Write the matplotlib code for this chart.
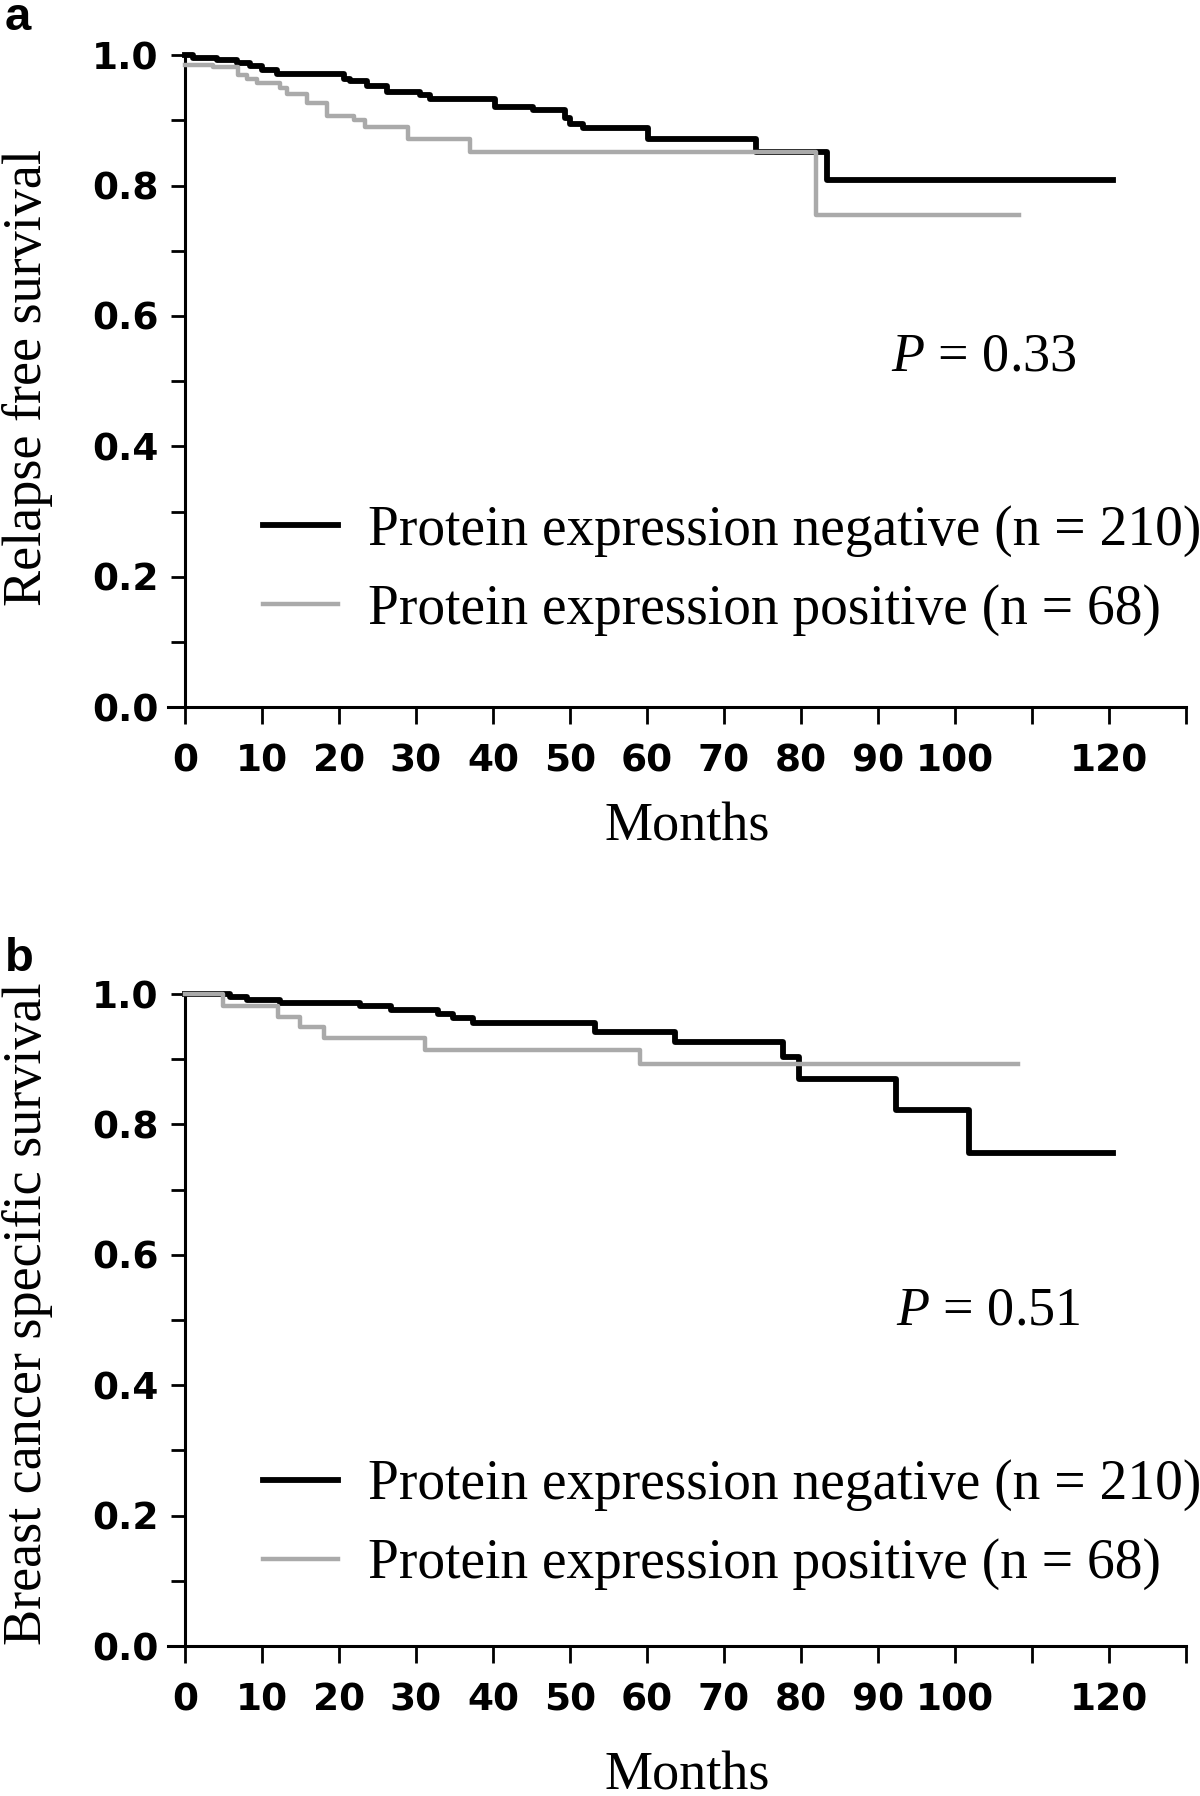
import numpy as np
import matplotlib
matplotlib.use('Agg')
import matplotlib.pyplot as plt
from matplotlib.ticker import MultipleLocator

# x axis
month_ticks = np.arange(0, 131, 10)
month_labels = ['0', '10', '20', '30', '40', '50', '60', '70', '80', '90', '100', '', '120', '']
surv_ticks = [0.0, 0.2, 0.4, 0.6, 0.8, 1.0]
surv_labels = ['0.0', '0.2', '0.4', '0.6', '0.8', '1.0']

# panel a - relapse free survival (step curves)
a_neg_t = [0, 1, 4.1, 6.7, 8.4, 10.0, 11.9, 20.6, 21.4, 23.6, 26.2, 30.5, 31.8, 40.3,
           45.2, 49.4, 50.0, 51.7, 60.2, 74.2, 83.4, 120.5]
a_neg_s = [1.0, 0.996, 0.992, 0.988, 0.984, 0.977, 0.971, 0.964, 0.960, 0.953, 0.944, 0.939,
           0.933, 0.921, 0.916, 0.903, 0.894, 0.889, 0.872, 0.852, 0.809, 0.809]
a_pos_t = [0, 3.7, 6.9, 8.1, 9.4, 12.4, 13.3, 15.9, 18.5, 21.9, 23.4, 29.0, 37.0, 81.9, 108.3]
a_pos_s = [0.985, 0.982, 0.969, 0.964, 0.957, 0.949, 0.940, 0.926, 0.907, 0.900, 0.890,
           0.872, 0.852, 0.755, 0.755]

# panel b - breast cancer specific survival
b_neg_t = [0, 5.8, 8.0, 12.3, 22.7, 26.8, 32.9, 34.8, 37.4, 53.2, 63.7, 77.7, 79.7,
           92.4, 101.8, 120.5]
b_neg_s = [1.0, 0.996, 0.991, 0.987, 0.981, 0.975, 0.969, 0.963, 0.955, 0.942, 0.927,
           0.904, 0.869, 0.822, 0.756, 0.756]
b_pos_t = [0, 5.0, 12.1, 15.0, 18.0, 31.2, 59.1, 108.2]
b_pos_s = [1.0, 0.982, 0.965, 0.950, 0.933, 0.915, 0.893, 0.893]

neg_label = 'Protein expression negative (n = 210)'
pos_label = 'Protein expression positive (n = 68)'

serif = 'Liberation Serif'
plt.rcParams['mathtext.fontset'] = 'custom'
plt.rcParams['mathtext.it'] = 'Liberation Serif:italic'
plt.rcParams['mathtext.rm'] = 'Liberation Serif'


def panel(ax, neg_t, neg_s, pos_t, pos_s, ylabel, ptext, p_xy, leg_y):
    ax.plot(neg_t, neg_s, drawstyle='steps-post', color='black', linewidth=4.2,
            clip_on=False, label=neg_label, zorder=3)
    ax.plot(pos_t, pos_s, drawstyle='steps-post', color='#aaaaaa', linewidth=3.2,
            clip_on=False, label=pos_label, zorder=4)

    ax.set_xlim(-2.2, 130)
    ax.set_ylim(0, 1.0)
    for s in ['top', 'right']:
        ax.spines[s].set_visible(False)
    ax.spines['left'].set_position(('data', 0))
    ax.spines['left'].set_linewidth(2.2)
    ax.spines['bottom'].set_linewidth(2.2)

    ax.set_xticks(month_ticks)
    ax.set_xticklabels(month_labels)
    ax.set_yticks(surv_ticks)
    ax.set_yticklabels(surv_labels)
    ax.yaxis.set_minor_locator(MultipleLocator(0.1))
    ax.tick_params(axis='x', which='both', length=12, width=2, pad=14, labelsize=27)
    ax.tick_params(axis='y', which='both', length=10, width=2, pad=9, labelsize=27)
    for lab in ax.get_xticklabels() + ax.get_yticklabels():
        lab.set_fontweight('bold')
        lab.set_family('DejaVu Sans')

    ax.set_xlabel('Months', family=serif, fontsize=39, va='center')
    ax.xaxis.set_label_coords(0.51, -0.184)
    ax.set_ylabel(ylabel, family=serif, fontsize=39, va='center')
    ax.yaxis.set_label_coords(-0.138, 0.505)

    ax.text(p_xy[0], p_xy[1], ptext, family=serif, fontsize=39, va='center', ha='left')

    leg = ax.legend(loc='center left', bbox_to_anchor=(0.093, leg_y), frameon=False,
                    prop={'family': serif, 'size': 40}, handlelength=1.35,
                    handletextpad=0.55, labelspacing=0.48, borderpad=0, borderaxespad=0)
    return leg


fig = plt.figure(figsize=(12, 17.96), dpi=100)
ax_a = fig.add_axes([0.1400, 0.6063, 0.8483, 0.3630])
ax_b = fig.add_axes([0.1400, 0.0835, 0.8483, 0.3630])

panel(ax_a, a_neg_t, a_neg_s, a_pos_t, a_pos_s, 'Relapse free survival',
      '$P$ = 0.33', (91.7, 0.537), 0.210)
panel(ax_b, b_neg_t, b_neg_s, b_pos_t, b_pos_s, 'Breast cancer specific survival',
      '$P$ = 0.51', (92.3, 0.514), 0.186)
ax_b.xaxis.set_label_coords(0.51, -0.199)
ax_b.yaxis.set_label_coords(-0.138, 0.51)

fig.text(0.004, 1 - 30 / 1796, 'a', family='Liberation Sans', fontweight='bold',
         fontsize=34, va='baseline', ha='left')
fig.text(0.004, 1 - 971 / 1796, 'b', family='Liberation Sans', fontweight='bold',
         fontsize=34, va='baseline', ha='left')

fig.savefig('out.png', dpi=100)
